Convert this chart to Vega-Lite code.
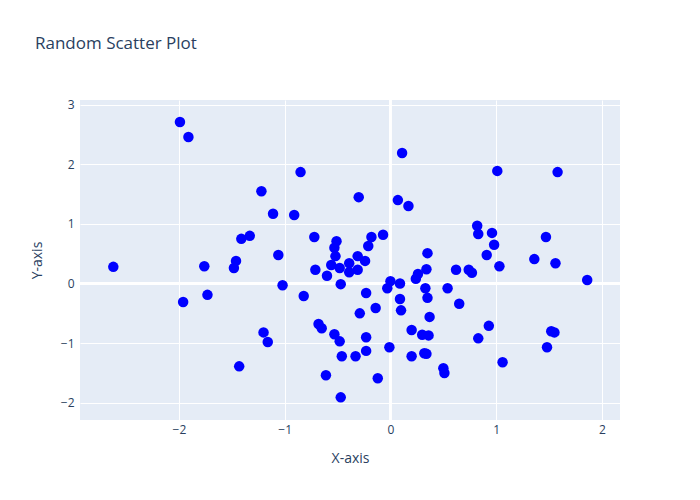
{
  "$schema": "https://vega.github.io/schema/vega-lite/v6.json",
  "width": 540,
  "height": 320,
  "autosize": {"type": "none"},
  "padding": {"left": 80, "top": 100, "right": 80, "bottom": 80},
  "background": "white",
  "config": {
    "view": {"fill": "#e5ecf6", "stroke": null},
    "font": "Open Sans",
    "axis": {
      "grid": true, "gridColor": "white", "gridWidth": 1,
      "domain": false, "ticks": false,
      "labelColor": "#2a3f5f", "labelFontSize": 12, "labelFont": "Open Sans",
      "titleColor": "#2a3f5f", "titleFontSize": 14, "titleFontWeight": "normal", "titleFont": "Open Sans"
    }
  },
  "title": {
    "text": "Random Scatter Plot",
    "anchor": "start",
    "frame": "group",
    "dx": -45,
    "offset": 46,
    "fontSize": 17,
    "fontWeight": "normal",
    "color": "#2a3f5f",
    "font": "Open Sans"
  },
  "data": {"values": [
    {"x": -2.62, "y": 0.28}, {"x": -1.99, "y": 2.71}, {"x": -1.91, "y": 2.46}, {"x": -1.96, "y": -0.31},
    {"x": -1.76, "y": 0.29}, {"x": -1.73, "y": -0.19}, {"x": -1.48, "y": 0.26}, {"x": -1.46, "y": 0.38},
    {"x": -1.41, "y": 0.75}, {"x": -1.33, "y": 0.80}, {"x": -1.43, "y": -1.39}, {"x": -1.22, "y": 1.55},
    {"x": -1.20, "y": -0.82}, {"x": -1.16, "y": -0.98}, {"x": -1.11, "y": 1.17}, {"x": -1.06, "y": 0.48},
    {"x": -1.02, "y": -0.03}, {"x": -0.91, "y": 1.15}, {"x": -0.85, "y": 1.87}, {"x": -0.82, "y": -0.21},
    {"x": -0.72, "y": 0.78}, {"x": -0.71, "y": 0.23}, {"x": -0.68, "y": -0.68}, {"x": -0.65, "y": -0.75},
    {"x": -0.60, "y": 0.13}, {"x": -0.61, "y": -1.54}, {"x": -0.56, "y": 0.31}, {"x": -0.53, "y": 0.60},
    {"x": -0.52, "y": 0.46}, {"x": -0.51, "y": 0.71}, {"x": -0.53, "y": -0.85}, {"x": -0.48, "y": 0.26},
    {"x": -0.47, "y": -0.01}, {"x": -0.48, "y": -0.97}, {"x": -0.46, "y": -1.22}, {"x": -0.47, "y": -1.91},
    {"x": -0.39, "y": 0.19}, {"x": -0.39, "y": 0.34}, {"x": -0.33, "y": -1.22}, {"x": -0.31, "y": 0.23},
    {"x": -0.31, "y": 0.46}, {"x": -0.30, "y": 1.45}, {"x": -0.29, "y": -0.50}, {"x": -0.24, "y": 0.38},
    {"x": -0.23, "y": -0.16}, {"x": -0.23, "y": -0.90}, {"x": -0.23, "y": -1.13}, {"x": -0.21, "y": 0.63},
    {"x": -0.18, "y": 0.78}, {"x": -0.14, "y": -0.41}, {"x": -0.12, "y": -1.59}, {"x": -0.07, "y": 0.82},
    {"x": -0.03, "y": -0.08}, {"x": 0.00, "y": 0.04}, {"x": -0.01, "y": -1.07}, {"x": 0.07, "y": 1.40},
    {"x": 0.11, "y": 2.19}, {"x": 0.09, "y": 0.00}, {"x": 0.09, "y": -0.26}, {"x": 0.10, "y": -0.45},
    {"x": 0.17, "y": 1.30}, {"x": 0.20, "y": -0.78}, {"x": 0.20, "y": -1.22}, {"x": 0.24, "y": 0.08},
    {"x": 0.26, "y": 0.16}, {"x": 0.30, "y": -0.86}, {"x": 0.32, "y": -1.17}, {"x": 0.34, "y": 0.24},
    {"x": 0.33, "y": -0.08}, {"x": 0.35, "y": 0.51}, {"x": 0.34, "y": -1.18}, {"x": 0.35, "y": -0.24},
    {"x": 0.36, "y": -0.87}, {"x": 0.37, "y": -0.56}, {"x": 0.50, "y": -1.42}, {"x": 0.51, "y": -1.50},
    {"x": 0.54, "y": -0.08}, {"x": 0.62, "y": 0.23}, {"x": 0.65, "y": -0.34}, {"x": 0.74, "y": 0.23},
    {"x": 0.77, "y": 0.18}, {"x": 0.82, "y": 0.97}, {"x": 0.83, "y": 0.83}, {"x": 0.83, "y": -0.92},
    {"x": 0.91, "y": 0.48}, {"x": 0.93, "y": -0.71}, {"x": 0.96, "y": 0.85}, {"x": 0.98, "y": 0.65},
    {"x": 1.01, "y": 1.89}, {"x": 1.03, "y": 0.29}, {"x": 1.06, "y": -1.32}, {"x": 1.36, "y": 0.41},
    {"x": 1.47, "y": 0.78}, {"x": 1.48, "y": -1.07}, {"x": 1.52, "y": -0.80}, {"x": 1.55, "y": -0.82},
    {"x": 1.56, "y": 0.34}, {"x": 1.58, "y": 1.87}, {"x": 1.86, "y": 0.06}
  ]},
  "layer": [
    {
      "mark": {"type": "rule", "color": "white", "strokeWidth": 2},
      "encoding": {"x": {"datum": 0, "type": "quantitative"}}
    },
    {
      "mark": {"type": "rule", "color": "white", "strokeWidth": 2},
      "encoding": {"y": {"datum": 0, "type": "quantitative"}}
    },
    {
      "mark": {"type": "point", "shape": "circle", "filled": true, "color": "#0000ff", "opacity": 1, "size": 110},
      "encoding": {
        "x": {"field": "x", "type": "quantitative", "title": "X-axis",
              "scale": {"domain": [-2.935, 2.17], "nice": false, "zero": false},
              "axis": {"values": [-2, -1, 0, 1, 2], "format": "d", "labelPadding": 4, "titlePadding": 16}},
        "y": {"field": "y", "type": "quantitative", "title": "Y-axis",
              "scale": {"domain": [-2.29, 3.08], "nice": false, "zero": false},
              "axis": {"values": [-2, -1, 0, 1, 2, 3], "format": "d", "labelPadding": 6, "titlePadding": 16}}
      }
    }
  ]
}
